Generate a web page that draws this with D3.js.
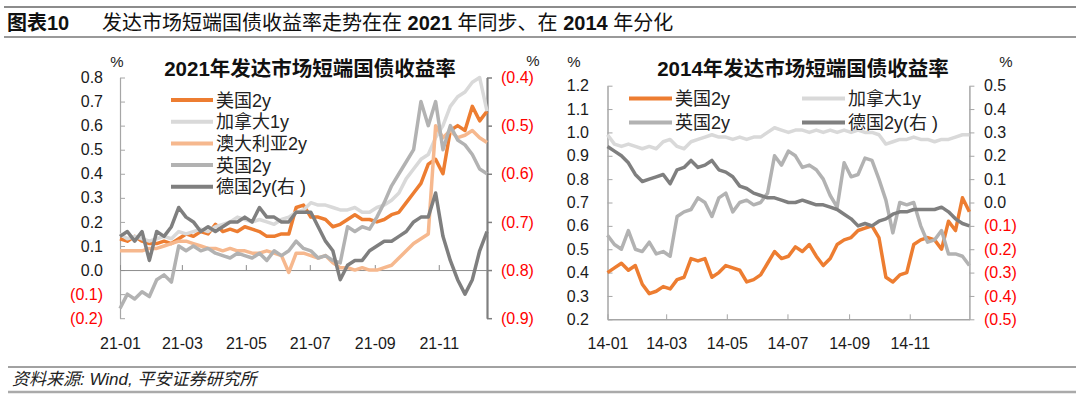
<!DOCTYPE html>
<html>
<head>
<meta charset="utf-8">
<script src="https://cdn.jsdelivr.net/npm/d3@7"></script>
<style>
body { margin: 0; background: #fff; }
svg text { font-family: 'Liberation Sans', Arial, 'Noto Sans CJK SC', sans-serif; }
</style>
</head>
<body>
<div id="chart"></div>
<script>
// ---- data (weekly readings) ----
var start2021 = new Date(2021, 0, 1);
var start2014 = new Date(2014, 0, 1);

var us21 = [0.13,0.12,0.14,0.12,0.11,0.11,0.12,0.11,0.13,0.15,
            0.14,0.16,0.15,0.19,0.16,0.17,0.16,0.18,0.17,0.16,
            0.14,0.14,0.15,0.15,0.26,0.27,0.22,0.22,0.21,0.18,
            0.19,0.21,0.23,0.21,0.21,0.20,0.21,0.23,0.24,0.28,
            0.32,0.36,0.44,0.46,0.40,0.58,0.60,0.58,0.68,0.62,
            0.66];
var ca21 = [0.15,0.13,0.14,0.13,0.12,0.13,0.14,0.13,0.16,0.15,
            0.16,0.17,0.16,0.18,0.19,0.20,0.22,0.21,0.20,0.21,
            0.20,0.19,0.21,0.22,0.24,0.25,0.28,0.27,0.27,0.26,
            0.25,0.25,0.26,0.24,0.24,0.26,0.27,0.29,0.32,0.38,
            0.42,0.46,0.48,0.55,0.60,0.68,0.72,0.74,0.78,0.80,
            0.66];
var au21 = [0.08,0.08,0.08,0.08,0.09,0.09,0.10,0.11,0.12,0.12,
            0.11,0.10,0.09,0.09,0.08,0.09,0.08,0.08,0.07,0.07,
            0.08,0.07,0.06,-0.01,0.07,0.07,0.06,0.05,0.06,0.03,
            0.01,0.01,0.00,0.01,0.00,0.00,0.01,0.02,0.05,0.08,
            0.11,0.13,0.15,0.60,0.55,0.58,0.55,0.56,0.58,0.55,
            0.53];
var uk21 = [-0.16,-0.10,-0.12,-0.09,-0.11,-0.04,-0.02,-0.05,0.10,0.08,
            0.10,0.08,0.09,0.07,0.06,0.05,0.07,0.06,0.05,0.07,
            0.04,0.08,0.06,0.08,0.12,0.09,0.08,0.05,0.06,0.04,
            0.03,0.18,0.16,0.18,0.17,0.22,0.28,0.35,0.40,0.45,
            0.50,0.70,0.60,0.70,0.50,0.60,0.54,0.52,0.48,0.42,
            0.40];
var de21 = [-0.73,-0.72,-0.74,-0.72,-0.78,-0.72,-0.73,-0.71,-0.67,-0.69,
            -0.70,-0.72,-0.71,-0.72,-0.71,-0.70,-0.70,-0.69,-0.70,-0.67,
            -0.69,-0.69,-0.70,-0.70,-0.68,-0.68,-0.68,-0.71,-0.74,-0.76,
            -0.82,-0.79,-0.78,-0.78,-0.76,-0.75,-0.74,-0.74,-0.73,-0.72,
            -0.70,-0.69,-0.69,-0.64,-0.73,-0.78,-0.82,-0.85,-0.82,-0.76,
            -0.72];

var us14 = [0.40,0.42,0.44,0.41,0.43,0.35,0.31,0.32,0.34,0.33,
            0.37,0.38,0.46,0.45,0.46,0.38,0.40,0.43,0.42,0.41,
            0.36,0.37,0.39,0.44,0.49,0.46,0.47,0.51,0.49,0.52,
            0.47,0.43,0.46,0.52,0.54,0.55,0.58,0.59,0.60,0.55,
            0.38,0.36,0.39,0.40,0.52,0.54,0.55,0.54,0.50,0.62,
            0.58,0.72,0.66];
var ca14 = [0.99,0.95,0.94,0.95,0.94,0.93,0.94,0.93,0.96,0.97,
            0.94,0.93,0.96,0.97,0.98,0.99,0.98,0.98,0.97,0.98,
            0.97,0.98,0.98,1.00,1.02,1.01,1.00,1.01,1.01,1.00,
            1.01,1.00,1.01,1.00,1.01,1.00,1.01,1.00,1.00,0.99,
            0.95,0.96,0.97,0.97,0.98,0.97,0.97,0.96,0.97,0.97,
            0.98,0.99,0.99];
var uk14 = [0.56,0.52,0.50,0.58,0.50,0.49,0.53,0.48,0.49,0.47,
            0.64,0.66,0.67,0.72,0.70,0.64,0.72,0.74,0.66,0.70,
            0.71,0.69,0.70,0.74,0.90,0.86,0.92,0.90,0.85,0.86,
            0.84,0.80,0.73,0.68,0.87,0.81,0.82,0.89,0.88,0.80,
            0.71,0.57,0.70,0.69,0.70,0.60,0.53,0.54,0.58,0.48,
            0.48,0.47,0.43];
var de14 = [0.24,0.22,0.20,0.17,0.12,0.09,0.10,0.11,0.12,0.08,
            0.14,0.15,0.18,0.15,0.16,0.18,0.14,0.13,0.11,0.07,
            0.06,0.04,0.03,0.02,0.02,0.01,0.00,0.00,0.01,0.00,
            -0.01,-0.01,-0.02,-0.03,-0.05,-0.07,-0.10,-0.09,-0.10,-0.08,
            -0.07,-0.05,-0.04,-0.04,-0.03,-0.03,-0.03,-0.03,-0.02,-0.04,
            -0.07,-0.09,-0.10];

var names21 = ["美国2y","加拿大1y","澳大利亚2y","英国2y","德国2y(右 )"];
var names14 = ["美国2y","加拿大1y","英国2y","德国2y(右 )"];
var colors21 = ["#ED7D31","#D9D9D9","#F6B88E","#B2B2B2","#7F7F7F"];
var colors14 = ["#ED7D31","#D9D9D9","#B2B2B2","#7F7F7F"];

var FONT_CJK = "'Liberation Sans', Arial, 'Noto Sans CJK SC', sans-serif";

var svg = d3.select("#chart").append("svg")
    .attr("width", 1080).attr("height", 397)
    .style("background", "#fff");

// ---- header ----
svg.append("line").attr("x1", 4).attr("x2", 1076).attr("y1", 7).attr("y2", 7)
    .attr("stroke", "#666").attr("stroke-width", 1.5);
svg.append("line").attr("x1", 4).attr("x2", 1076).attr("y1", 37).attr("y2", 37)
    .attr("stroke", "#999").attr("stroke-width", 2);
svg.append("text").attr("x", 7).attr("y", 30)
    .style("font-size", "20px").style("font-weight", "bold").style("fill", "#111")
    .text("图表10");
var head = svg.append("text").attr("x", 102).attr("y", 30)
    .style("font-size", "20px").style("fill", "#111");
head.append("tspan").text("发达市场短端国债收益率走势在在 ");
head.append("tspan").style("font-weight", "bold").text("2021");
head.append("tspan").text(" 年同步、在 ");
head.append("tspan").style("font-weight", "bold").text("2014");
head.append("tspan").text(" 年分化");

// ---- footer ----
svg.append("line").attr("x1", 8).attr("x2", 1076).attr("y1", 367).attr("y2", 367)
    .attr("stroke", "#444").attr("stroke-width", 1);
svg.append("line").attr("x1", 8).attr("x2", 1076).attr("y1", 392).attr("y2", 392)
    .attr("stroke", "#aaa").attr("stroke-width", 2.5);
svg.append("text").attr("x", 12).attr("y", 385)
    .style("font-size", "17px").style("font-style", "italic").style("fill", "#222")
    .text("资料来源: Wind,  平安证券研究所");

function fmt(v) {
    if (v < -1e-9) return "(" + Math.abs(v).toFixed(1) + ")";
    return Math.abs(v).toFixed(1);
}

function styleAxis(g, lineColor, lineWidth) {
    g.select(".domain").attr("stroke", lineColor).attr("stroke-width", lineWidth);
    g.selectAll(".tick line").attr("stroke", lineColor).attr("stroke-width", 1);
    g.selectAll(".tick text")
        .style("font-size", "16px")
        .style("font-family", FONT_CJK)
        .attr("fill", function(d) { return (typeof d === "number" && d < -1e-9) ? "#FF0000" : "#1a1a1a"; });
}

function drawLine(xs, ys, startDate, values, color) {
    var line = d3.line()
        .x(function(d, i) { return xs(d3.timeDay.offset(startDate, 7 * i)); })
        .y(function(d) { return ys(d); });
    svg.append("path").datum(values)
        .attr("d", line)
        .attr("fill", "none")
        .attr("stroke", color)
        .attr("stroke-width", 3.5)
        .attr("stroke-linejoin", "round");
}

// =========== left chart: 2021 ===========
var x1 = d3.scaleTime().domain([start2021, new Date(2021, 11, 17)]).range([120, 487]);
var y1L = d3.scaleLinear().domain([-0.2, 0.8]).range([318.2, 77.5]);
var y1R = d3.scaleLinear().domain([-0.9, -0.4]).range([318.2, 77.5]);
var months21 = d3.timeMonth.every(2).range(start2021, new Date(2021, 11, 2));

var gL1 = svg.append("g").attr("transform", "translate(120,0)")
    .call(d3.axisLeft(y1L).ticks(10).tickSizeInner(-5).tickSizeOuter(0).tickPadding(17).tickFormat(fmt));
styleAxis(gL1, "#a6a6a6", 1.2);

var gR1 = svg.append("g").attr("transform", "translate(487,0)")
    .call(d3.axisRight(y1R).ticks(5).tickSizeInner(5).tickSizeOuter(0).tickPadding(9).tickFormat(fmt));
styleAxis(gR1, "#7f7f7f", 2.2);
gR1.selectAll(".tick line").attr("stroke", "#7f7f7f").attr("stroke-width", 1.5);

var gX1 = svg.append("g").attr("transform", "translate(0," + y1L(0) + ")")
    .call(d3.axisBottom(x1).tickValues(months21).tickSizeInner(-5).tickSizeOuter(0).tickFormat(""));
styleAxis(gX1, "#8c8c8c", 1);

var gXL1 = svg.append("g").attr("transform", "translate(0,318.2)")
    .call(d3.axisBottom(x1).tickValues(months21).tickSize(0).tickPadding(19).tickFormat(d3.timeFormat("%y-%m")));
gXL1.select(".domain").remove();
styleAxis(gXL1, "#8c8c8c", 1);

var series21 = [us21, ca21, au21, uk21];
series21.forEach(function(s, i) { drawLine(x1, y1L, start2021, s, colors21[i]); });
drawLine(x1, y1R, start2021, de21, colors21[4]);

svg.append("text").attr("x", 310).attr("y", 76).attr("text-anchor", "middle")
    .style("font-size", "20.5px").style("font-weight", "bold").style("fill", "#111")
    .text("2021年发达市场短端国债收益率");
svg.append("text").attr("x", 117).attr("y", 67).attr("text-anchor", "middle")
    .style("font-size", "15px").style("fill", "#222").text("%");
svg.append("text").attr("x", 533).attr("y", 66).attr("text-anchor", "middle")
    .style("font-size", "15px").style("fill", "#222").text("%");

var leg1Y = [100, 121.7, 143.5, 165, 186.7];
names21.forEach(function(n, i) {
    svg.append("line").attr("x1", 171).attr("x2", 213).attr("y1", leg1Y[i]).attr("y2", leg1Y[i])
        .attr("stroke", colors21[i]).attr("stroke-width", 4);
    svg.append("text").attr("x", 216).attr("y", leg1Y[i] + 6.5)
        .style("font-size", "18px").style("fill", "#222").text(n);
});

// =========== right chart: 2014 ===========
var x2 = d3.scaleTime().domain([start2014, new Date(2014, 11, 31)]).range([607.5, 969.4]);
var y2L = d3.scaleLinear().domain([0.2, 1.2]).range([319.3, 85.7]);
var y2R = d3.scaleLinear().domain([-0.5, 0.5]).range([319.3, 85.7]);
var months14 = d3.timeMonth.every(2).range(start2014, new Date(2014, 11, 2));

var gL2 = svg.append("g").attr("transform", "translate(607.5,0)")
    .call(d3.axisLeft(y2L).ticks(10).tickSizeInner(-5).tickSizeOuter(0).tickPadding(18.5).tickFormat(fmt));
styleAxis(gL2, "#a6a6a6", 1.5);

var gR2 = svg.append("g").attr("transform", "translate(969.4,0)")
    .call(d3.axisRight(y2R).ticks(10).tickSizeInner(5).tickSizeOuter(0).tickPadding(9.5).tickFormat(fmt));
styleAxis(gR2, "#a6a6a6", 1.5);

var gX2 = svg.append("g").attr("transform", "translate(0,319.3)")
    .call(d3.axisBottom(x2).tickValues(months14).tickSizeInner(-5).tickSizeOuter(0).tickPadding(18).tickFormat(d3.timeFormat("%y-%m")));
styleAxis(gX2, "#a6a6a6", 1.5);

var series14 = [us14, ca14, uk14];
series14.forEach(function(s, i) { drawLine(x2, y2L, start2014, s, colors14[i]); });
drawLine(x2, y2R, start2014, de14, colors14[3]);

svg.append("text").attr("x", 803).attr("y", 76).attr("text-anchor", "middle")
    .style("font-size", "20.5px").style("font-weight", "bold").style("fill", "#111")
    .text("2014年发达市场短端国债收益率");
svg.append("text").attr("x", 574).attr("y", 67).attr("text-anchor", "middle")
    .style("font-size", "15px").style("fill", "#222").text("%");
svg.append("text").attr("x", 1006).attr("y", 67).attr("text-anchor", "middle")
    .style("font-size", "15px").style("fill", "#222").text("%");

var leg2 = [
    {x: 629, y: 98.5}, {x: 802, y: 98.5},
    {x: 629, y: 122.6}, {x: 802, y: 122.6}
];
names14.forEach(function(n, i) {
    var p = leg2[i];
    svg.append("line").attr("x1", p.x).attr("x2", p.x + 43).attr("y1", p.y).attr("y2", p.y)
        .attr("stroke", colors14[i]).attr("stroke-width", 4);
    svg.append("text").attr("x", p.x + 46).attr("y", p.y + 6.5)
        .style("font-size", "18px").style("fill", "#222").text(n);
});
</script>
</body>
</html>
